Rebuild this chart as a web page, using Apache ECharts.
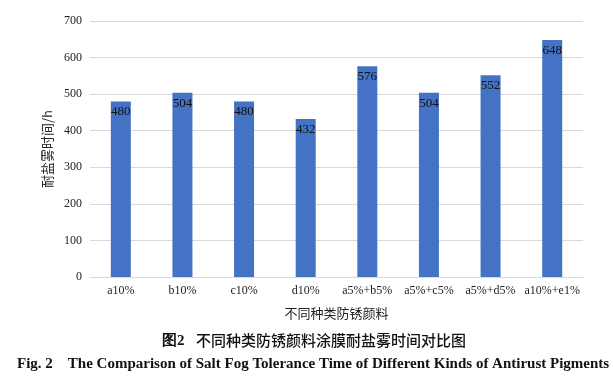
<!DOCTYPE html>
<html><head><meta charset="utf-8">
<script src="https://cdn.jsdelivr.net/npm/echarts@6/dist/echarts.min.js"></script>
<style>html,body{margin:0;padding:0;background:#fff}#c{width:613px;height:381px}</style>
</head><body><div id="c"></div>
<script>
const categories = ['a10%','b10%','c10%','d10%','a5%+b5%','a5%+c5%','a5%+d5%','a10%+e1%'];
const values = [480,504,480,432,576,504,552,648];
const yTicks = [0,100,200,300,400,500,600,700];
const yName = '耐盐雾时间/h';
const xName = '不同种类防锈颜料';
const captionCnNum = '图2';
const captionCn = '不同种类防锈颜料涂膜耐盐雾时间对比图';
const captionEn = 'Fig. 2    The Comparison of Salt Fog Tolerance Time of Different Kinds of Antirust Pigments';

const chart = echarts.init(document.getElementById('c'));
chart.setOption({
  animation:false,
  backgroundColor:'#fff',
  grid:{left:90,right:30,top:21,bottom:104},
  xAxis:{type:'category',data:categories,
    axisLine:{lineStyle:{color:'#d9d9d9'}},axisTick:{show:false},
    axisLabel:{color:'#222',fontFamily:'Liberation Serif',fontSize:12,margin:8,interval:0},
    name:xName,nameLocation:'middle',nameGap:30,
    nameTextStyle:{color:'#222',fontFamily:'Noto Sans CJK SC',fontSize:13}},
  yAxis:{type:'value',min:yTicks[0],max:yTicks[yTicks.length-1],interval:100,
    axisLine:{show:false},axisTick:{show:false},
    splitLine:{lineStyle:{color:'#d9d9d9'}},
    axisLabel:{color:'#222',fontFamily:'Liberation Serif',fontSize:12,margin:8},
    name:yName,nameLocation:'middle',nameGap:31,
    nameTextStyle:{color:'#222',fontFamily:'Noto Sans CJK SC',fontSize:13}},
  series:[{type:'bar',data:values,barWidth:20,
    itemStyle:{color:'#4472C4'},
    label:{show:true,position:'insideTop',distance:4,color:'#111',fontFamily:'Liberation Serif',fontSize:13}}],
  title:[
    {text:captionCnNum,left:157,top:329,
      textStyle:{fontFamily:'Liberation Serif',fontSize:15,fontWeight:'bold',color:'#111'}},
    {text:captionCn,left:191,top:328,
      textStyle:{fontFamily:'Noto Sans CJK SC',fontSize:15,fontWeight:500,color:'#111'}},
    {text:captionEn,left:12,top:352,textStyle:{fontFamily:'Liberation Serif',fontSize:15,fontWeight:'bold',color:'#111'}}
  ]
});
</script></body></html>
